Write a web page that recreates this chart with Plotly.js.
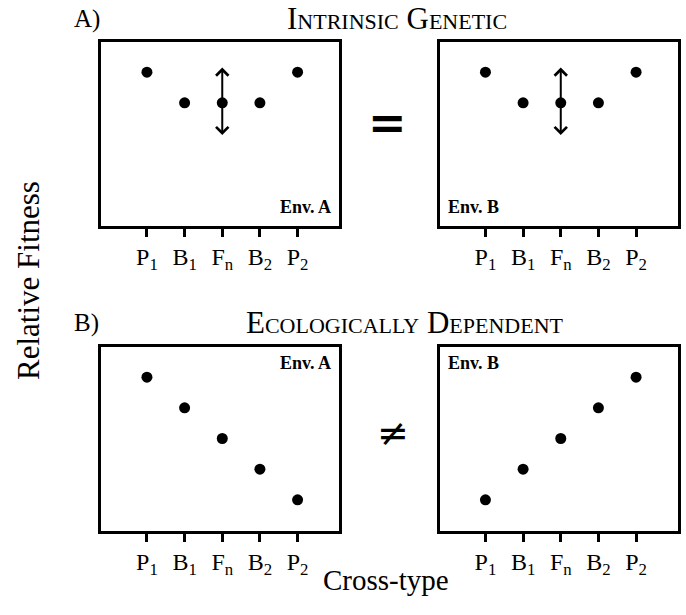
<!DOCTYPE html>
<html>
<head>
<meta charset="utf-8">
<script src="https://cdn.plot.ly/plotly-3.0.1.min.js"></script>
<style>html,body{margin:0;padding:0;background:#fff;}</style>
</head>
<body>
<div id="chart" style="width:686px;height:615px;"></div>
<script>
// ---- data ----
const crossTypes = ['P<sub>1</sub>', 'B<sub>1</sub>', 'F<sub>n</sub>', 'B<sub>2</sub>', 'P<sub>2</sub>'];
const intrinsicEnvA = [5, 4, 4, 4, 5];
const intrinsicEnvB = [5, 4, 4, 4, 5];
const ecologicalEnvA = [5, 4, 3, 2, 1];
const ecologicalEnvB = [1, 2, 3, 4, 5];
const fnSpan = [2.95, 5.15];           // extent of the double arrow on F_n (intrinsic panels)
const panelLabels = ['A)', 'B)'];
const panelTitles = ['Intrinsic Genetic', 'Ecologically Dependent'];
const envLabels = ['Env. A', 'Env. B'];

// ---- helpers ----
const W = 686, H = 615;
const px = v => v / W;
const py = v => 1 - v / H;
const SERIF = 'Liberation Serif';

function markerTrace(vals, xa, ya) {
  return {
    x: crossTypes, y: vals, xaxis: xa, yaxis: ya,
    type: 'scatter', mode: 'markers',
    marker: {color: '#000', size: 11},
    hoverinfo: 'skip', cliponaxis: false
  };
}

const data = [
  markerTrace(intrinsicEnvA, 'x', 'y'),
  markerTrace(intrinsicEnvB, 'x2', 'y2'),
  markerTrace(ecologicalEnvA, 'x3', 'y3'),
  markerTrace(ecologicalEnvB, 'x4', 'y4')
];

function xAxis(domain, anchor) {
  return {
    domain: domain, anchor: anchor, type: 'category',
    range: [-1.22, 5.1], fixedrange: true,
    showline: true, mirror: true, linewidth: 3, linecolor: '#000',
    showgrid: false, zeroline: false,
    ticks: 'outside', ticklen: 8, tickwidth: 3, tickcolor: '#000',
    tickfont: {family: SERIF, size: 24, color: '#000'}
  };
}
function yAxis(domain, anchor) {
  return {
    domain: domain, anchor: anchor, range: [0, 6], fixedrange: true,
    showline: true, mirror: true, linewidth: 3, linecolor: '#000',
    showgrid: false, zeroline: false, ticks: '', showticklabels: false
  };
}

const leftDom = [px(101), px(339)];
const rightDom = [px(439.5), px(677.5)];
const topDom = [py(225.5), py(41.5)];
const botDom = [py(530.5), py(346.5)];

const annotations = [];
function txt(text, x, y, xanchor, size, extra) {
  annotations.push(Object.assign({
    text: text, xref: 'paper', yref: 'paper', x: px(x), y: py(y),
    xanchor: xanchor, yanchor: 'middle', showarrow: false,
    font: {family: SERIF, size: size, color: '#000'}
  }, extra || {}));
}

// panel letters and titles
txt(panelLabels[0], 72, 19, 'left', 25);
txt(panelLabels[1], 72, 323, 'left', 25);
txt(panelTitles[0], 397, 19, 'center', 31, {font: {family: SERIF, size: 31, color: '#000', variant: 'small-caps'}});
txt(panelTitles[1], 405, 323, 'center', 31, {font: {family: SERIF, size: 31, color: '#000', variant: 'small-caps'}});

// = and ≠
txt('=', 387, 123, 'center', 46, {font: {family: 'DejaVu Sans', size: 46, color: '#000', weight: 'bold'}});
txt('\u2260', 393, 433, 'center', 38, {font: {family: 'DejaVu Sans', size: 38, color: '#000'}});

// axis titles
txt('Relative Fitness', 28, 281, 'center', 31, {textangle: -90});
txt('Cross-type', 385.5, 580, 'center', 29);

// environment labels
const envFont = {family: SERIF, size: 18, color: '#000', weight: 'bold'};
txt(envLabels[0], 333, 207, 'right', 18, {font: envFont});
txt(envLabels[1], 446, 207, 'left', 18, {font: envFont});
txt(envLabels[0], 333, 363, 'right', 18, {font: envFont});
txt(envLabels[1], 446, 363, 'left', 18, {font: envFont});

// double arrows on F_n in the intrinsic panels
const fnIndex = crossTypes.indexOf('F<sub>n</sub>');
[['x', 'y', intrinsicEnvA], ['x2', 'y2', intrinsicEnvB]].forEach(([xr, yr, vals]) => {
  fnSpan.forEach(end => {
    annotations.push({
      xref: xr, yref: yr, axref: xr, ayref: yr,
      x: fnIndex, y: end, ax: fnIndex, ay: vals[fnIndex],
      text: '', showarrow: true, arrowhead: 4, arrowsize: 1.2,
      arrowwidth: 2, arrowcolor: '#000', standoff: 0, startstandoff: 0
    });
  });
});

const layout = {
  width: W, height: H,
  margin: {l: 0, r: 0, t: 0, b: 0},
  paper_bgcolor: '#fff', plot_bgcolor: '#fff',
  font: {family: SERIF, color: '#000'},
  showlegend: false,
  xaxis: xAxis(leftDom, 'y'),   yaxis: yAxis(topDom, 'x'),
  xaxis2: xAxis(rightDom, 'y2'), yaxis2: yAxis(topDom, 'x2'),
  xaxis3: xAxis(leftDom, 'y3'),  yaxis3: yAxis(botDom, 'x3'),
  xaxis4: xAxis(rightDom, 'y4'), yaxis4: yAxis(botDom, 'x4'),
  annotations: annotations
};

Plotly.newPlot('chart', data, layout, {staticPlot: true, displayModeBar: false});
</script>
</body>
</html>
